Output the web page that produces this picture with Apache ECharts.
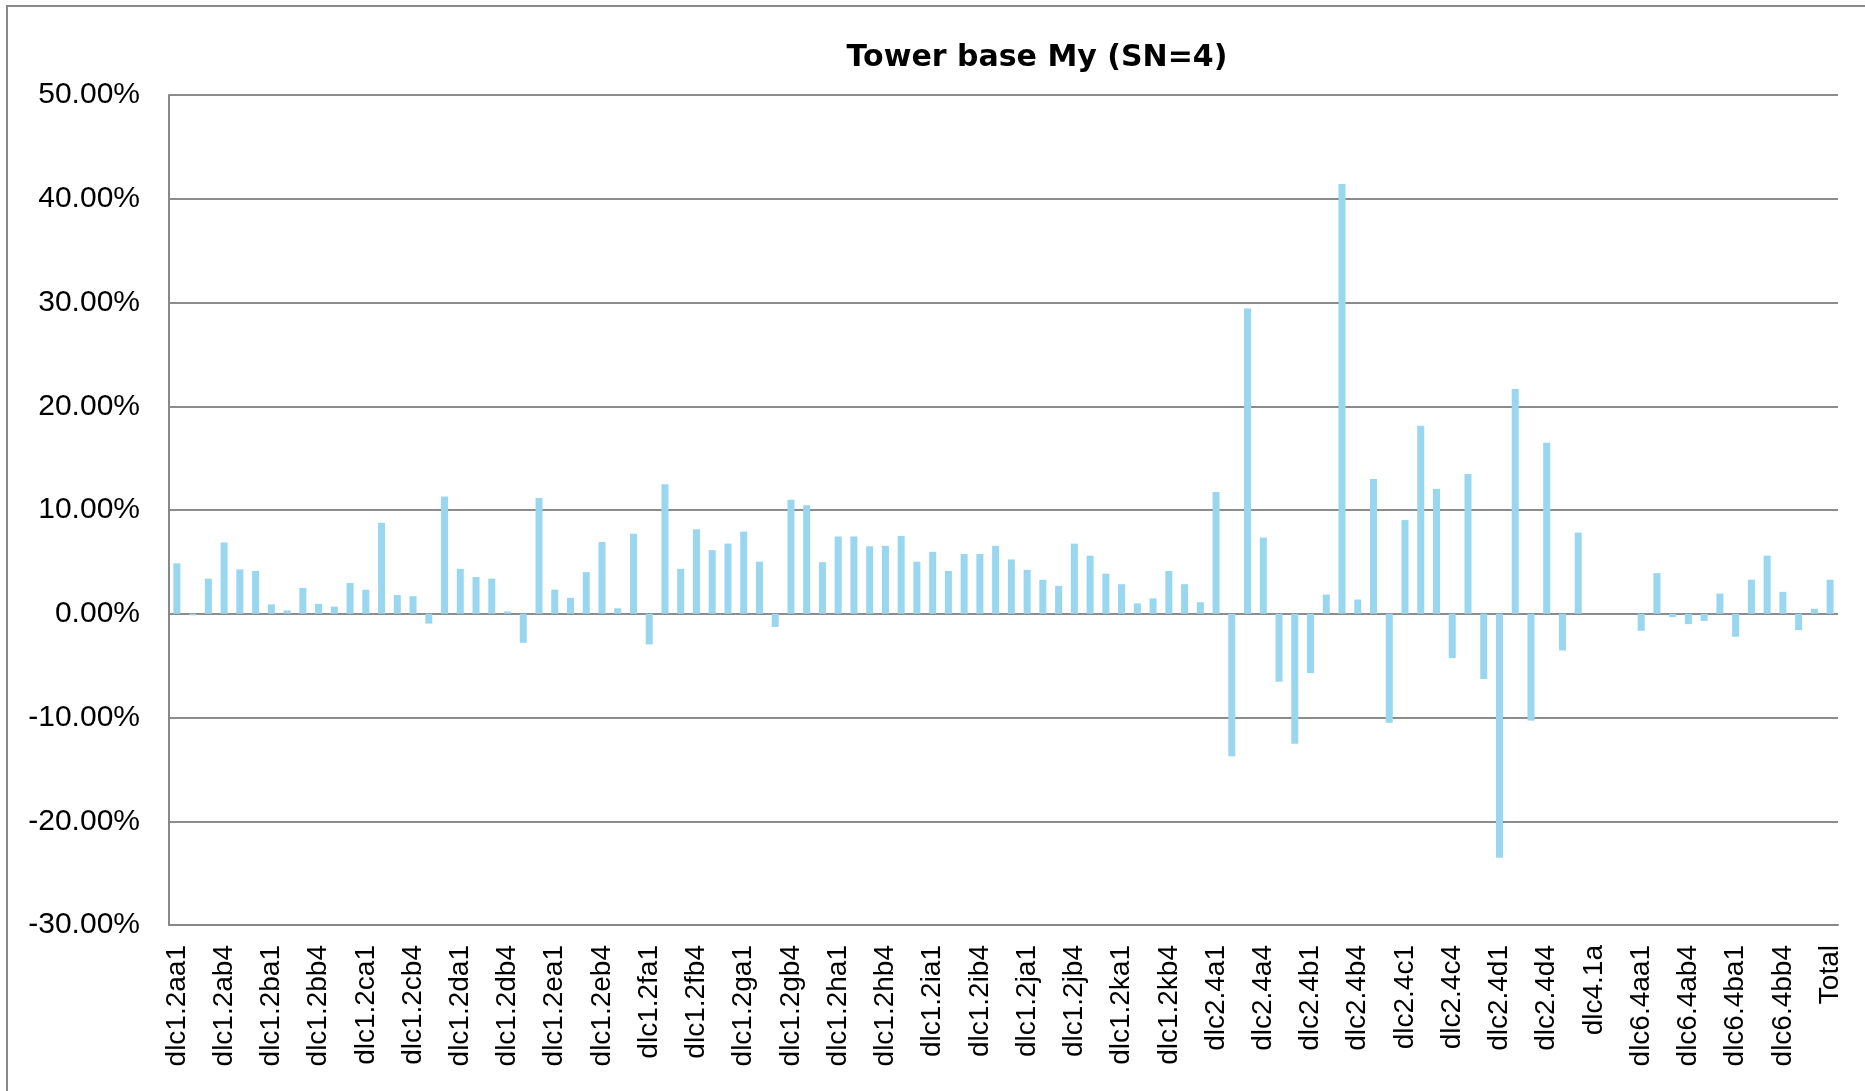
<!DOCTYPE html>
<html>
<head>
<meta charset="utf-8">
<script src="https://cdn.jsdelivr.net/npm/echarts@6/dist/echarts.min.js"></script>
<style>
html, body { margin: 0; padding: 0; background: #fff; }
#main { width: 1865px; height: 1091px; }
</style>
</head>
<body>
<div id="main"></div>
<script>
// category names, in chart order
var dlc12Groups = ['a', 'b', 'c', 'd', 'e', 'f', 'g', 'h', 'i', 'j', 'k']
var dlc12Cases = ['a1', 'a2', 'a3', 'b4', 'b5', 'b6']
var dlc24Groups = ['a', 'b', 'c', 'd']
var dlc24Seeds = ['1', '2', '3', '4', '5', '6']
var dlc41Cases = ['dlc4.1a', 'dlc4.1b', 'dlc4.1c']
var dlc64Cases = ['dlc6.4aa1', 'dlc6.4aa2', 'dlc6.4aa3', 'dlc6.4ab4', 'dlc6.4ab5', 'dlc6.4ab6',
  'dlc6.4ba1', 'dlc6.4ba2', 'dlc6.4ba3', 'dlc6.4bb4', 'dlc6.4bb5', 'dlc6.4bb6']

var categories = []
dlc12Groups.forEach(function (g) {
  dlc12Cases.forEach(function (c) { categories.push('dlc1.2' + g + c) })
})
dlc24Groups.forEach(function (g) {
  dlc24Seeds.forEach(function (s) { categories.push('dlc2.4' + g + s) })
})
categories = categories.concat(dlc41Cases, dlc64Cases, ['Total'])

// deviation in percent
var dlc12Values = [
  4.86, -0.15, 3.38, 6.87, 4.28, 4.12,
  0.90, 0.32, 2.48, 0.95, 0.69, 2.96,
  2.32, 8.77, 1.80, 1.69, -0.95, 11.3,
  4.33, 3.54, 3.38, 0.21, -2.80, 11.15,
  2.32, 1.53, 4.01, 6.92, 0.53, 7.71,
  -2.96, 12.47, 4.33, 8.14, 6.13, 6.76,
  7.92, 5.02, -1.27, 10.99, 10.46, 4.97,
  7.45, 7.45, 6.50, 6.55, 7.50, 5.02,
  5.97, 4.12, 5.76, 5.76, 6.55, 5.23,
  4.23, 3.28, 2.69, 6.76, 5.60, 3.86,
  2.85, 1.00, 1.48, 4.12, 2.85, 1.11
]
var dlc24Values = [
  11.73, -13.73, 29.42, 7.34, -6.55, -12.52,
  -5.71, 1.85, 41.42, 1.37, 13.0, -10.51,
  9.03, 18.12, 12.04, -4.28, 13.47, -6.29,
  -23.51, 21.66, -10.30, 16.48, -3.54, 7.82
]
var dlc41Values = [0, 0, 0]
var dlc64Values = [-1.64, 3.91, -0.32, -1.00, -0.69, 1.95, -2.22, 3.28, 5.60, 2.11, -1.58, 0.48]
var totalValue = [3.28]

var yTicks = { min: -30, max: 50, step: 10 }

var values = dlc12Values.concat(dlc24Values, dlc41Values, dlc64Values, totalValue)

var chartDom = document.getElementById('main')
var myChart = echarts.init(chartDom)

var option = {
  animation: false,
  backgroundColor: '#fff',
  title: {
    text: 'Tower base My (SN=4)',
    left: 1032,
    top: 38,
    textAlign: 'center',
    textStyle: {
      fontFamily: 'DejaVu Sans',
      fontWeight: 'bold',
      fontSize: 30,
      color: '#000'
    }
  },
  graphic: [{
    type: 'rect',
    shape: { x: 7, y: 6, width: 1900, height: 1200 },
    style: { fill: 'none', stroke: '#8a8a8a', lineWidth: 2 },
    silent: true,
    z: -1
  }],
  grid: {
    left: 169,
    right: 1865 - 1838,
    top: 95,
    bottom: 1091 - 925,
    containLabel: false
  },
  xAxis: {
    type: 'category',
    data: categories,
    position: 'bottom',
    axisLine: { onZero: false, lineStyle: { color: '#888', width: 2 } },
    axisTick: { show: false },
    axisLabel: {
      interval: 2,
      rotate: 90,
      margin: 20,
      fontFamily: 'Liberation Sans',
      fontSize: 28,
      color: '#000'
    }
  },
  yAxis: {
    type: 'value',
    min: yTicks.min,
    max: yTicks.max,
    interval: yTicks.step,
    axisLine: { show: true, lineStyle: { color: '#888', width: 2 } },
    axisTick: { show: false },
    splitLine: { lineStyle: { color: '#8c8c8c', width: 2 } },
    axisLabel: {
      margin: 29,
      fontFamily: 'Liberation Sans',
      fontSize: 30,
      color: '#000',
      formatter: function (v) { return v.toFixed(2) + '%' }
    }
  },
  series: [{
    type: 'bar',
    data: values,
    barWidth: 7,
    itemStyle: { color: '#99d6f0' }
  }]
}

option && myChart.setOption(option)
</script>
</body>
</html>
